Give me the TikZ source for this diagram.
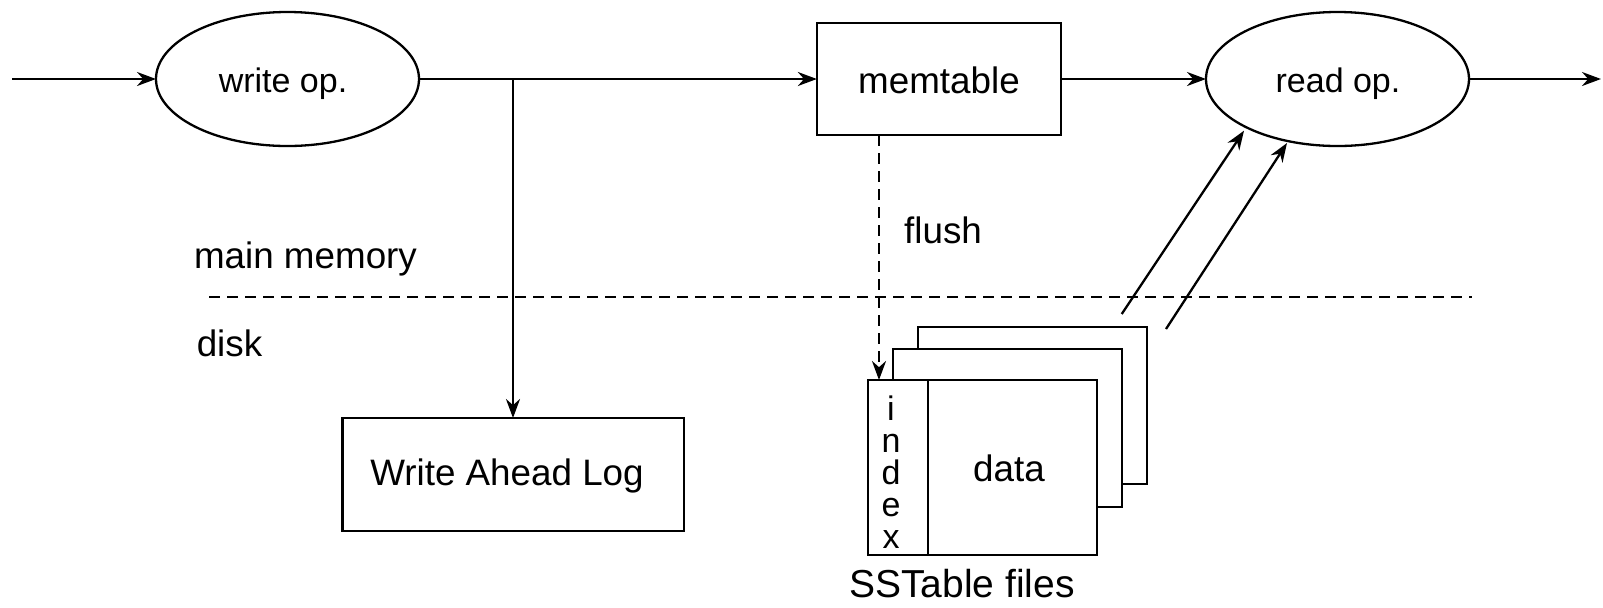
\documentclass[tikz,border=0pt]{standalone}
\usepackage{fontspec}
\setmainfont{Liberation Sans}
\usetikzlibrary{shapes.geometric,arrows.meta}
\begin{document}
\begin{tikzpicture}[x=0.5pt,y=-0.5pt,line width=1.15pt,
  every node/.style={inner sep=0pt,outer sep=0pt},
  opnode/.style={ellipse,draw,minimum width=131.5pt,minimum height=67pt},
  boxnode/.style={rectangle,draw,fill=white},
  lbl/.style={anchor=base,font=\fontsize{18.4}{22}\selectfont},
  oplbl/.style={anchor=base,font=\fontsize{17}{20}\selectfont},
  idx/.style={anchor=base,font=\fontsize{17}{20}\selectfont},
  flow/.style={-{Stealth[length=9.5pt,width=7pt]}},
  sep/.style={dash pattern=on 5.5pt off 3.5pt}]
\useasboundingbox (0,0) rectangle (1603,607);

% operations and in-memory table
\node[opnode] (wr) at (287.5,79) {};
\node[opnode] (rd) at (1337.5,79) {};
\node[boxnode,minimum width=122.15pt,minimum height=56.15pt] (mem) at (939,79) {};
\node[boxnode,minimum width=170.65pt,minimum height=56.5pt] (wal) at (513,474.5) {};

% stacked SSTable files
\node[boxnode,minimum width=114.35pt,minimum height=78.65pt] (back) at (1032.35,405.35) {};
\node[boxnode,minimum width=114.35pt,minimum height=78.85pt] (mid) at (1007.35,427.85) {};
\node[boxnode,minimum width=114.65pt,minimum height=87.5pt] (front) at (982.35,467.5) {};
\draw ([xshift=30pt]front.north west) -- ([xshift=30pt]front.south west);

% labels
\node[oplbl] (wrt) at (283,92.7) {write op.};
\node[oplbl] (rdt) at (1338,92.7) {read op.};
\node[lbl] (memt) at (939,93.3) {memtable};
\node[lbl] (walt) at (507,485) {Write Ahead Log};
\node[lbl] (mm) at (305.5,268) {main memory};
\node[lbl] (dk) at (229.5,356) {disk};
\node[lbl] (flt) at (943,243) {flush};
\node[lbl] (dt) at (1009,481.7) {data};
\node[lbl,font=\fontsize{19.5}{23}\selectfont] (ssf) at (962,597) {SSTable files};
\node[idx] (i1) at (891,420) {i};
\node[idx] (i2) at (891,452) {n};
\node[idx] (i3) at (891,484) {d};
\node[idx] (i4) at (891,516) {e};
\node[idx] (i5) at (891,548) {x};

% free ends and helper points
\coordinate (in) at (12,79);
\coordinate (out) at (1601,79);
\coordinate (br) at (513,79);
\coordinate (fl) at (879,0);
\coordinate (r1s) at (1121.7,314);
\coordinate (r1e) at (1244,130.7);
\coordinate (r2s) at (1166,329);
\coordinate (r2e) at (1287,143);
\coordinate (sepL) at (209,297);
\coordinate (sepR) at (1472,297);

% connectors
\draw[flow] (in) -- (wr.west);
\draw[flow] (wr.east) -- (mem.west);
\draw[flow] (br) -- (wal.north);
\draw[flow] (mem.east) -- (rd.west);
\draw[flow] (rd.east) -- (out);
\draw[flow,sep] (mem.south -| fl) -- (front.north -| fl);
\draw[flow] (r1s) -- (r1e);
\draw[flow] (r2s) -- (r2e);
\draw[sep] (sepL) -- (sepR);
\end{tikzpicture}
\end{document}
